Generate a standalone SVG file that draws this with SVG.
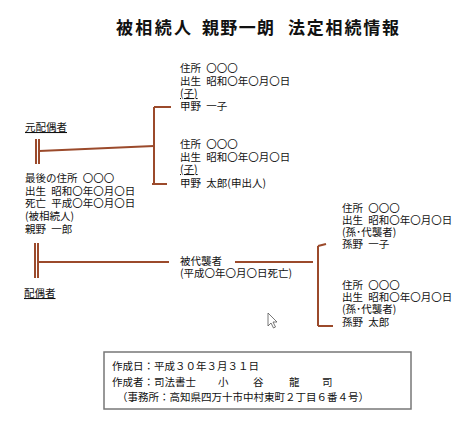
<svg xmlns="http://www.w3.org/2000/svg" width="474" height="431" viewBox="0 0 474 431">
<style>
text{font-family:"Noto Sans CJK JP","Liberation Sans",sans-serif;font-size:10.5px;fill:#111;word-spacing:3px}
.title{font-size:17px;font-weight:bold;word-spacing:0}
.u{text-decoration:underline}
.c{stroke:#9b4a2b;stroke-width:2;fill:none}
</style>
<rect width="474" height="431" fill="#fff"/>
<g id="title">
<text class="title" x="116" y="34" textLength="75" lengthAdjust="spacing">被相続人</text>
<text class="title" x="202" y="34" textLength="72" lengthAdjust="spacing">親野一朗</text>
<text class="title" x="288" y="34" textLength="111" lengthAdjust="spacing">法定相続情報</text>
</g>
<g id="connectors">
<line class="c" x1="36" y1="139" x2="36" y2="164"/>
<line class="c" x1="39" y1="139" x2="39" y2="164"/>
<line class="c" x1="39" y1="151" x2="154" y2="146"/>
<line class="c" x1="154" y1="107" x2="154" y2="184"/>
<line class="c" x1="154" y1="107" x2="171" y2="107"/>
<line class="c" x1="152" y1="184" x2="167" y2="184"/>
<line class="c" x1="35" y1="243" x2="35" y2="278"/>
<line class="c" x1="38" y1="243" x2="38" y2="278"/>
<line class="c" x1="38" y1="262" x2="169" y2="262"/>
<line class="c" x1="235" y1="262" x2="313" y2="262"/>
<line class="c" x1="318" y1="246" x2="318" y2="326"/>
<line class="c" x1="318" y1="246" x2="326" y2="244"/>
<line class="c" x1="318" y1="326" x2="333" y2="326"/>
</g>
<g id="ex-spouse">
<text class="u" x="25" y="131">元配偶者</text>
</g>
<g id="decedent">
<text x="25" y="182">最後の住所 〇〇〇</text>
<text x="25" y="195">出生 昭和〇年〇月〇日</text>
<text x="25" y="207">死亡 平成〇年〇月〇日</text>
<text x="25" y="220">(被相続人)</text>
<text x="25" y="232.5">親野 一郎</text>
</g>
<g id="spouse">
<text class="u" x="24" y="297">配偶者</text>
</g>
<g id="child1">
<text x="180" y="72">住所 〇〇〇</text>
<text x="180" y="85">出生 昭和〇年〇月〇日</text>
<text class="u" x="180" y="97">(子)</text>
<text x="180" y="110">甲野 一子</text>
</g>
<g id="child2">
<text x="180" y="148">住所 〇〇〇</text>
<text x="180" y="161">出生 昭和〇年〇月〇日</text>
<text class="u" x="180" y="173">(子)</text>
<text x="180" y="187">甲野 太郎(申出人)</text>
</g>
<g id="represented">
<text x="180" y="265">被代襲者</text>
<text x="180" y="276.5">(平成〇年〇月〇日死亡)</text>
</g>
<g id="grandchild1">
<text x="342" y="212">住所 〇〇〇</text>
<text x="342" y="224">出生 昭和〇年〇月〇日</text>
<text x="342" y="236">(孫･代襲者)</text>
<text x="342" y="248">孫野 一子</text>
</g>
<g id="grandchild2">
<text x="342" y="289">住所 〇〇〇</text>
<text x="342" y="301">出生 昭和〇年〇月〇日</text>
<text x="342" y="313">(孫･代襲者)</text>
<text x="342" y="326">孫野 太郎</text>
</g>
<path d="M268,313 L268,326 L271,323 L273.5,328 L275.5,327 L273,322 L277,322 Z" fill="#fff" stroke="#555" stroke-width="0.8"/>
<g id="footer">
<rect x="104" y="352" width="307" height="57" fill="none" stroke="#777" stroke-width="1.5"/>
<text x="112" y="370">作成日：平成３０年３月３１日</text>
<text x="112" y="386">作成者：司法書士<tspan x="218">小</tspan><tspan x="253">谷</tspan><tspan x="289">龍</tspan><tspan x="322">司</tspan></text>
<text x="117" y="401">（事務所：高知県四万十市中村東町２丁目６番４号）</text>
</g>
</svg>
